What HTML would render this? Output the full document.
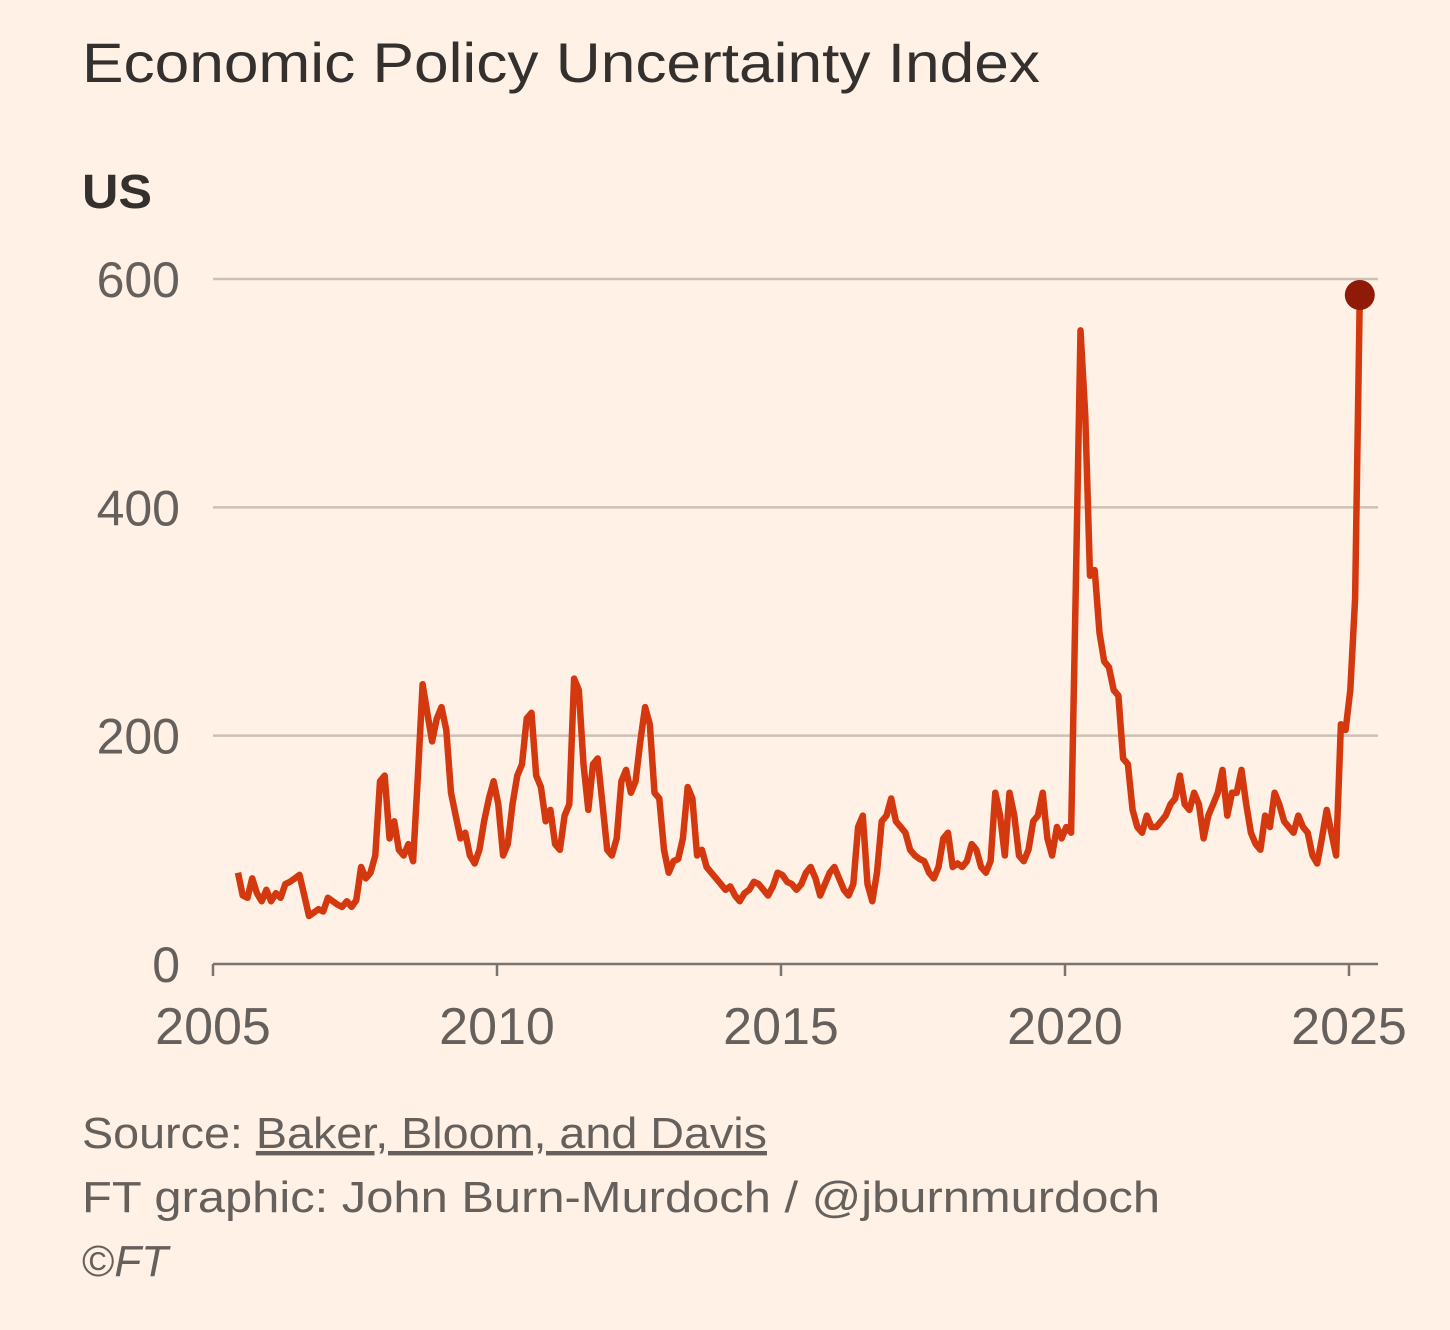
<!DOCTYPE html>
<html><head><meta charset="utf-8"><style>
body{margin:0;background:#fff1e5;width:1450px;height:1330px;overflow:hidden;font-family:"Liberation Sans",sans-serif;}
</style></head><body>
<svg width="1450" height="1330" style="position:absolute;left:0;top:0">
<text x="82" y="82" font-size="56" fill="#33302e" textLength="958" lengthAdjust="spacingAndGlyphs">Economic Policy Uncertainty Index</text>
<text x="82" y="208" font-size="48" font-weight="bold" fill="#33302e" textLength="70" lengthAdjust="spacingAndGlyphs">US</text>
<g id="grid"></g><g id="axis"></g>
<path id="line" fill="none" stroke="#d4380f" stroke-width="6.5" stroke-linejoin="round"/>
<circle id="dot" r="15" fill="#8f1a08"/>
<text x="82" y="1148" font-size="44" fill="#66605c" textLength="685" lengthAdjust="spacingAndGlyphs">Source: <tspan text-decoration="underline">Baker, Bloom, and Davis</tspan></text>
<text x="82" y="1212" font-size="44" fill="#66605c" textLength="1078" lengthAdjust="spacingAndGlyphs">FT graphic: John Burn-Murdoch / @jburnmurdoch</text>
<text x="82" y="1276" font-size="44" fill="#66605c">©<tspan font-style="italic">FT</tspan></text>
</svg>
<script>
const yTicks=[0,200,400,600];
const xTicks=[2005,2010,2015,2020,2025];
const endDate=2025.19;
const values=[
80,60,58,75,62,55,65,
55,62,58,70,72,75,78,60,42,45,48,46,
58,55,52,50,55,50,56,85,75,80,95,160,
165,110,125,100,95,105,90,165,245,220,195,215,
225,205,150,130,110,115,95,88,100,125,145,160,
140,95,105,140,165,175,215,220,165,155,125,135,
105,100,130,140,250,240,175,135,175,180,140,100,
95,110,160,170,150,160,195,225,210,150,145,100,
80,90,92,110,155,145,95,100,85,80,75,70,
65,68,60,55,62,65,72,70,65,60,68,80,
78,72,70,65,70,80,85,75,60,70,80,85,
75,65,60,70,120,130,70,55,80,125,130,145,
125,120,115,100,95,92,90,80,75,85,110,115,
85,88,85,90,105,100,85,80,90,150,130,95,
150,130,95,90,100,125,130,150,110,95,120,110,
120,115,330,555,480,340,345,290,265,260,240,235,
180,175,135,120,115,130,120,120,125,130,140,145,
165,140,135,150,140,110,130,140,150,170,130,150,
150,170,140,115,105,100,130,120,150,140,125,120,
115,130,120,115,95,88,110,135,115,95,210,205,
240,320,586];
const X=t=>213+(t-2005)*56.8;
const Y=v=>964-v*1.1417;
const NS='http://www.w3.org/2000/svg';
const grid=document.getElementById('grid'),axis=document.getElementById('axis');
yTicks.forEach(v=>{
  if(v>0){const l=document.createElementNS(NS,'line');
  l.setAttribute('x1',213);l.setAttribute('x2',1378);l.setAttribute('y1',Y(v));l.setAttribute('y2',Y(v));
  l.setAttribute('stroke','#ccc1b7');l.setAttribute('stroke-width','2.5');
  
  
  grid.appendChild(l);}
  const t=document.createElementNS(NS,'text');
  t.setAttribute('x',180);t.setAttribute('y',Y(v)+18);t.setAttribute('text-anchor','end');
  t.setAttribute('font-size','50');t.setAttribute('fill','#66605c');t.textContent=v;
  
  
  grid.appendChild(t);
});
const base=document.createElementNS(NS,'line');
base.setAttribute('x1',213);base.setAttribute('x2',1378);base.setAttribute('y1',964);base.setAttribute('y2',964);
base.setAttribute('stroke','#7a7470');base.setAttribute('stroke-width','2.5');


axis.appendChild(base);
xTicks.forEach(yr=>{
  const l=document.createElementNS(NS,'line');
  l.setAttribute('x1',X(yr));l.setAttribute('x2',X(yr));l.setAttribute('y1',964);l.setAttribute('y2',976);
  l.setAttribute('stroke','#7a7470');l.setAttribute('stroke-width','2.5');
  
  
  axis.appendChild(l);
  const t=document.createElementNS(NS,'text');
  t.setAttribute('x',X(yr));t.setAttribute('y',1044);t.setAttribute('text-anchor','middle');
  t.setAttribute('font-size','52');t.setAttribute('fill','#66605c');t.textContent=yr;
  
  
  axis.appendChild(t);
});
const n=values.length;
const d=values.map((v,i)=>(i?'L':'M')+X(endDate-(n-1-i)/12).toFixed(1)+','+Y(v).toFixed(1)).join(' ');
document.getElementById('line').setAttribute('d',d);
const dot=document.getElementById('dot');
dot.setAttribute('cx',X(endDate));dot.setAttribute('cy',Y(values[n-1]));
</script>
</body></html>
